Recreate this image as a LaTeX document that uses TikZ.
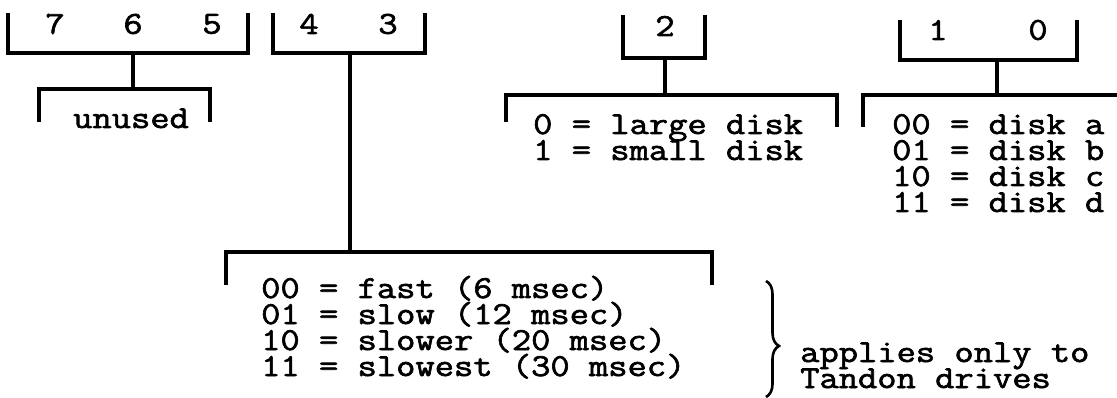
\documentclass[tikz,border=0pt]{standalone}
\usepackage{fontspec}
\newfontfamily\typefont{Latin Modern Mono}[FakeBold=2,FakeStretch=1.17]
\usetikzlibrary{decorations.pathreplacing}

\tikzset{
  field/.style={line width=3.2pt},
  bitnum/.style={inner sep=0pt,font=\typefont\fontsize{32}{26}\selectfont},
  codeline/.style={anchor=base west,inner sep=0pt,text height=18pt,text depth=5pt,
    font=\typefont\fontsize{32}{26}\selectfont},
}

\begin{document}
\begin{tikzpicture}[x=1pt,y=-1pt]
\useasboundingbox (0,0) rectangle (1117,398);

\begin{scope}[every node/.style={bitnum}]
	\node (b7) at (55,24) {7};
	\node (b6) at (133,24) {6};
	\node (b5) at (212,24) {5};
	\node (b4) at (309,24) {4};
	\node (b3) at (388,24) {3};
	\node (b2) at (665,26) {2};
	\node (b1) at (938,30) {1};
	\node (b0) at (1038,30) {0};
\end{scope}

\begin{scope}[every node/.style={codeline}]
	\node (unused) at (73,128) {unused};
	\node (large) at (533,134) {0 = large disk};
	\node (small) at (533,160) {1 = small disk};
	\node (diska) at (892,134) {00 = disk a};
	\node (diskb) at (892,160) {01 = disk b};
	\node (diskc) at (892,186) {10 = disk c};
	\node (diskd) at (892,212) {11 = disk d};
	\node (fast) at (261,298) {00 = fast (6 msec)};
	\node (slow) at (261,324) {01 = slow (12 msec)};
	\node (slower) at (261,350) {10 = slower (20 msec)};
	\node (slowest) at (261,376) {11 = slowest (30 msec)};
	\node (applies) at (800,362) {applies only to};
	\node (tandon) at (800,388) {Tandon drives};
\end{scope}

% stem end points
\coordinate (s765) at (133,53);
\coordinate (t765) at (133,89);
\coordinate (s43) at (350,53);
\coordinate (t43) at (350,252);
\coordinate (s2) at (665,58);
\coordinate (t2) at (665,95);
\coordinate (s10) at (997,60);
\coordinate (t10) at (997,95);

\begin{scope}[field]
	% upper brackets
	\draw (8,13) |- (248,53) -- (248,13);
	\draw (273,13) |- (425,53) -- (425,13);
	\draw (623,15) |- (705,58) -- (705,15);
	\draw (900,20) |- (1077,60) -- (1077,20);
	% lower brackets
	\draw (39,122) |- (210,89) -- (210,122);
	\draw (226,285) |- (712,252) -- (712,285);
	\draw (506,122) |- (837,95) -- (837,127);
	\draw (863,127) |- (1117,95);
	% stems
	\draw (s765) -- (t765);
	\draw (s43) -- (t43);
	\draw (s2) -- (t2);
	\draw (s10) -- (t10);
\end{scope}

\draw [line width=2.6pt,decorate,decoration={brace,amplitude=13pt,aspect=0.56}] (766,281) -- (766,397);
\end{tikzpicture}
\end{document}
